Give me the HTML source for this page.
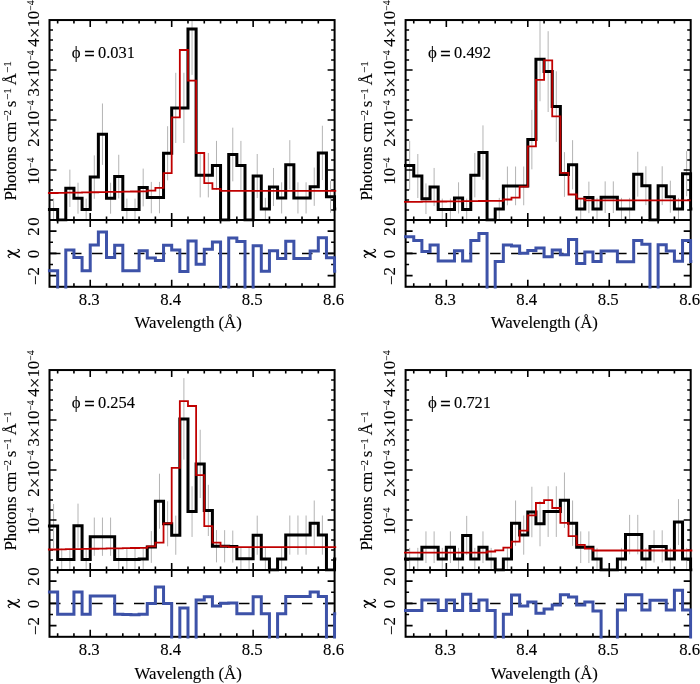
<!DOCTYPE html>
<html><head><meta charset="utf-8"><style>
html,body{margin:0;padding:0;background:#fff;}
svg{display:block;font-family:"Liberation Serif", serif;will-change:transform;}
text{stroke:#000;stroke-width:0.12px;}
</style></head><body>
<svg width="700" height="684" viewBox="0 0 700 684">
<rect width="700" height="684" fill="#fff"/>
<g transform="translate(0,0)">
<clipPath id="cm0"><rect x="50.5" y="21.05" width="283.1" height="197.95"/></clipPath>
<clipPath id="cr0"><rect x="49.5" y="220" width="285.1" height="66.8"/></clipPath>
<clipPath id="cmx0"><rect x="47.9" y="19.05" width="288.3" height="202.55"/></clipPath>
<clipPath id="crx0"><rect x="47.9" y="220.9" width="288.3" height="67.7"/></clipPath>
<path clip-path="url(#cm0)" d="M53.57 198.6V220.2M69.86 169.63V206.97M78.01 182.71V213.69M86.16 198.6V220.2M94.3 155.38V198.82M102.45 103.48V164.92M110.59 182.71V213.69M118.74 154.75V198.45M126.88 198.6V220.2M135.03 198.6V220.2M143.18 168.59V206.41M151.32 181.9V213.3M159.47 181.9V213.3M167.61 126.21V180.39M175.76 72.78V143.02M183.9 72.78V143.02M192.05 -16.72V74.92M200.2 153V197.4M208.34 153V197.4M216.49 140.89V189.91M232.78 127.66V181.34M240.92 140.89V189.91M257.22 154V198M265.36 197.85V219.95M273.51 167.95V206.05M281.65 182.31V213.49M289.8 140.16V189.44M297.94 182.31V213.49M306.09 182.31V213.49M314.24 167.56V205.84M322.38 125.73V180.07M330.53 180.69V212.71M338.67 197.85V219.95" stroke="#b4b4b4" stroke-width="1" fill="none"/>
<line clip-path="url(#cr0)" x1="50" y1="253.4" x2="334.6" y2="253.4" stroke="#000" stroke-width="1.5" stroke-dasharray="10.5 10.5"/>
<path d="M57.65 20.05v3.5M57.65 220v-3.5M57.65 220v3.5M57.65 286.8v-3.5M73.94 20.05v3.5M73.94 220v-3.5M73.94 220v3.5M73.94 286.8v-3.5M90.23 20.05v7M90.23 220v-7M90.23 220v7M90.23 286.8v-7M106.52 20.05v3.5M106.52 220v-3.5M106.52 220v3.5M106.52 286.8v-3.5M122.81 20.05v3.5M122.81 220v-3.5M122.81 220v3.5M122.81 286.8v-3.5M139.1 20.05v3.5M139.1 220v-3.5M139.1 220v3.5M139.1 286.8v-3.5M155.39 20.05v3.5M155.39 220v-3.5M155.39 220v3.5M155.39 286.8v-3.5M171.69 20.05v7M171.69 220v-7M171.69 220v7M171.69 286.8v-7M187.98 20.05v3.5M187.98 220v-3.5M187.98 220v3.5M187.98 286.8v-3.5M204.27 20.05v3.5M204.27 220v-3.5M204.27 220v3.5M204.27 286.8v-3.5M220.56 20.05v3.5M220.56 220v-3.5M220.56 220v3.5M220.56 286.8v-3.5M236.85 20.05v3.5M236.85 220v-3.5M236.85 220v3.5M236.85 286.8v-3.5M253.14 20.05v7M253.14 220v-7M253.14 220v7M253.14 286.8v-7M269.43 20.05v3.5M269.43 220v-3.5M269.43 220v3.5M269.43 286.8v-3.5M285.73 20.05v3.5M285.73 220v-3.5M285.73 220v3.5M285.73 286.8v-3.5M302.02 20.05v3.5M302.02 220v-3.5M302.02 220v3.5M302.02 286.8v-3.5M318.31 20.05v3.5M318.31 220v-3.5M318.31 220v3.5M318.31 286.8v-3.5M49.5 210h3.5M334.6 210h-3.5M49.5 200h3.5M334.6 200h-3.5M49.5 190.01h3.5M334.6 190.01h-3.5M49.5 180.01h3.5M334.6 180.01h-3.5M49.5 170.01h7M334.6 170.01h-7M49.5 160.02h3.5M334.6 160.02h-3.5M49.5 150.02h3.5M334.6 150.02h-3.5M49.5 140.02h3.5M334.6 140.02h-3.5M49.5 130.02h3.5M334.6 130.02h-3.5M49.5 120.03h7M334.6 120.03h-7M49.5 110.03h3.5M334.6 110.03h-3.5M49.5 100.03h3.5M334.6 100.03h-3.5M49.5 90.03h3.5M334.6 90.03h-3.5M49.5 80.04h3.5M334.6 80.04h-3.5M49.5 70.04h7M334.6 70.04h-7M49.5 60.04h3.5M334.6 60.04h-3.5M49.5 50.04h3.5M334.6 50.04h-3.5M49.5 40.05h3.5M334.6 40.05h-3.5M49.5 30.05h3.5M334.6 30.05h-3.5M49.5 275.67h7M334.6 275.67h-7M49.5 264.53h3.5M334.6 264.53h-3.5M49.5 253.4h7M334.6 253.4h-7M49.5 242.27h3.5M334.6 242.27h-3.5M49.5 231.13h7M334.6 231.13h-7" stroke="#000" stroke-width="1.6" fill="none"/>
<rect x="49.5" y="20.05" width="285.1" height="266.75" stroke="#000" stroke-width="2" fill="none"/>
<line x1="49.5" y1="220" x2="334.6" y2="220" stroke="#000" stroke-width="1.8"/>
<path clip-path="url(#cmx0)" d="M47.5 209.4H57.65V220H65.79V188.3H73.94V198.2H82.08V209.4H90.23V177.1H98.37V134.2H106.52V198.2H114.67V176.6H122.81V209.4H130.96V209.4H139.1V187.5H147.25V197.6H155.39V197.6H163.54V153.3H171.69V107.9H179.83V107.9H187.98V29.1H196.12V175.2H204.27V175.2H212.41V165.4H220.56V220H228.71V154.5H236.85V165.4H245V220H253.14V176H261.29V208.9H269.43V187H277.58V197.9H285.73V164.8H293.87V197.9H302.02V197.9H310.16V186.7H318.31V152.9H326.45V196.7H334.6V208.9H342.75" stroke="#000" stroke-width="3" fill="none"/>
<path clip-path="url(#cmx0)" d="M47.5 193H57.65V192.85H65.79V192.7H73.94V192.55H82.08V192.4H90.23V192.25H98.37V192.1H106.52V191.95H114.67V191.8H122.81V191.65H130.96V191.5H139.1V191.35H147.25V190.6H155.39V187.8H163.54V173.2H171.69V117.3H179.83V50H187.98V80.6H196.12V153H204.27V183.1H212.41V188.9H220.56V190.9H228.71V190.9H236.85V190.9H245V190.9H253.14V190.9H261.29V190.9H269.43V190.9H277.58V190.9H285.73V190.9H293.87V190.9H302.02V190.9H310.16V190.9H318.31V190.9H326.45V190.9H334.6V190.9H342.75" stroke="#c00000" stroke-width="1.8" fill="none"/>
<path clip-path="url(#crx0)" d="M47.5 270.7H57.65V292.8H65.79V250H73.94V257.6H82.08V270.7H90.23V245H98.37V231.9H106.52V257.6H114.67V245.3H122.81V270.7H130.96V270.7H139.1V250.7H147.25V258.1H155.39V260.4H163.54V245.3H171.69V250H179.83V271.4H187.98V241H196.12V264.3H204.27V249.3H212.41V242.1H220.56V292.8H228.71V237.9H236.85V241.4H245V292.8H253.14V245.8H261.29V271.2H269.43V250.7H277.58V258.5H285.73V241.3H293.87V258.5H302.02V258.5H310.16V251H318.31V237.8H326.45V257.8H334.6V271.2H342.75" stroke="#3d52a8" stroke-width="3" fill="none"/>
<text x="71.8" y="58.3" font-size="16.8">ϕ</text>
<text x="84.2" y="59.9" font-size="18.5" style="stroke-width:0.45px">=</text>
<text x="98" y="57.9" font-size="16.4">0.031</text>
<text x="89.23" y="305.2" font-size="16.8" text-anchor="middle">8.3</text>
<text x="170.69" y="305.2" font-size="16.8" text-anchor="middle">8.4</text>
<text x="252.14" y="305.2" font-size="16.8" text-anchor="middle">8.5</text>
<text x="333.6" y="305.2" font-size="16.8" text-anchor="middle">8.6</text>
<text x="188.2" y="328.2" font-size="16.8" text-anchor="middle">Wavelength (Å)</text>
<text transform="translate(39.3,221.5) rotate(-90)" font-size="16.8" text-anchor="middle">0</text>
<text transform="translate(39.3,171.2) rotate(-90)" font-size="16.8" text-anchor="middle">10<tspan font-size="9.6" dy="-5.2">−4</tspan></text>
<text transform="translate(39.3,123.6) rotate(-90)" font-size="16.8" text-anchor="middle">2<tspan font-size="19" dy="2">×</tspan><tspan dy="-2">1</tspan>0<tspan font-size="9.6" dy="-5.2">−4</tspan></text>
<text transform="translate(39.3,73.4) rotate(-90)" font-size="16.8" text-anchor="middle">3<tspan font-size="19" dy="2">×</tspan><tspan dy="-2">1</tspan>0<tspan font-size="9.6" dy="-5.2">−4</tspan></text>
<text transform="translate(39.3,23.6) rotate(-90)" font-size="16.8" text-anchor="middle">4<tspan font-size="19" dy="2">×</tspan><tspan dy="-2">1</tspan>0<tspan font-size="9.6" dy="-5.2">−4</tspan></text>
<text transform="translate(39.3,231.5) rotate(-90)" font-size="16.8" text-anchor="middle">2</text>
<text transform="translate(39.3,254) rotate(-90)" font-size="16.8" text-anchor="middle">0</text>
<text transform="translate(39.3,276) rotate(-90)" font-size="16.8" text-anchor="middle"><tspan dy="1.6">−</tspan><tspan dy="-1.6">2</tspan></text>
<path d="M8.3 250.75L19.25 257.1" stroke="#000" stroke-width="1.75" stroke-linecap="round" fill="none"/>
<path d="M10.1 257.7C8.6 257.3 7.8 256.3 8.3 255.3C9 254.3 11 253.9 12.8 253.6C14.8 253.3 16.6 252.9 18 252.2C19.3 251.6 19.9 250.6 19.1 249.9C18.7 249.5 18 249.4 17.5 249.4" stroke="#000" stroke-width="1.1" fill="none"/>
<text transform="translate(15.8,200.6) rotate(-90)" font-size="16.8" text-anchor="start">Photons cm</text>
<text transform="translate(11.4,121.6) rotate(-90)" font-size="11" text-anchor="start">−2</text>
<text transform="translate(15.8,107.2) rotate(-90)" font-size="16.8" text-anchor="start">s</text>
<text transform="translate(11.4,100) rotate(-90)" font-size="11" text-anchor="start">−1</text>
<text transform="translate(15.8,85.2) rotate(-90)" font-size="16.8" text-anchor="start">Å</text>
<text transform="translate(11.4,72.9) rotate(-90)" font-size="11" text-anchor="start">−1</text>
</g>
<g transform="translate(356.1,0)">
<clipPath id="cm1"><rect x="50.5" y="21.05" width="283.1" height="197.95"/></clipPath>
<clipPath id="cr1"><rect x="49.5" y="220" width="285.1" height="66.8"/></clipPath>
<clipPath id="cmx1"><rect x="47.9" y="19.05" width="288.3" height="202.55"/></clipPath>
<clipPath id="crx1"><rect x="47.9" y="220.9" width="288.3" height="67.7"/></clipPath>
<path clip-path="url(#cm1)" d="M53.57 140.89V189.91M61.72 154V198M69.86 183.39V214.01M78.01 167.95V206.05M86.16 198.6V220.2M94.3 198.6V220.2M102.45 182.31V213.49M110.59 198.6V220.2M118.74 153V197.4M126.88 125.37V179.83M143.18 197.85V219.95M151.32 166.53V205.27M159.47 166.53V205.27M167.61 166.53V205.27M175.76 109.86V169.34M183.9 17.14V101.26M192.05 31.2V112M200.2 71.28V141.92M208.34 152.13V196.87M216.49 140.16V189.44M224.63 197.85V219.95M232.78 181.63V213.17M240.92 197.85V219.95M249.07 181.36V213.04M257.22 181.36V213.04M265.36 197.85V219.95M273.51 197.85V219.95M281.65 151.75V196.65M289.8 166.28V205.12M306.09 166.28V205.12M314.24 180.69V212.71M322.38 197.85V219.95M330.53 151.13V196.27M338.67 197.85V219.95" stroke="#b4b4b4" stroke-width="1" fill="none"/>
<line clip-path="url(#cr1)" x1="50" y1="253.4" x2="334.6" y2="253.4" stroke="#000" stroke-width="1.5" stroke-dasharray="10.5 10.5"/>
<path d="M57.65 20.05v3.5M57.65 220v-3.5M57.65 220v3.5M57.65 286.8v-3.5M73.94 20.05v3.5M73.94 220v-3.5M73.94 220v3.5M73.94 286.8v-3.5M90.23 20.05v7M90.23 220v-7M90.23 220v7M90.23 286.8v-7M106.52 20.05v3.5M106.52 220v-3.5M106.52 220v3.5M106.52 286.8v-3.5M122.81 20.05v3.5M122.81 220v-3.5M122.81 220v3.5M122.81 286.8v-3.5M139.1 20.05v3.5M139.1 220v-3.5M139.1 220v3.5M139.1 286.8v-3.5M155.39 20.05v3.5M155.39 220v-3.5M155.39 220v3.5M155.39 286.8v-3.5M171.69 20.05v7M171.69 220v-7M171.69 220v7M171.69 286.8v-7M187.98 20.05v3.5M187.98 220v-3.5M187.98 220v3.5M187.98 286.8v-3.5M204.27 20.05v3.5M204.27 220v-3.5M204.27 220v3.5M204.27 286.8v-3.5M220.56 20.05v3.5M220.56 220v-3.5M220.56 220v3.5M220.56 286.8v-3.5M236.85 20.05v3.5M236.85 220v-3.5M236.85 220v3.5M236.85 286.8v-3.5M253.14 20.05v7M253.14 220v-7M253.14 220v7M253.14 286.8v-7M269.43 20.05v3.5M269.43 220v-3.5M269.43 220v3.5M269.43 286.8v-3.5M285.73 20.05v3.5M285.73 220v-3.5M285.73 220v3.5M285.73 286.8v-3.5M302.02 20.05v3.5M302.02 220v-3.5M302.02 220v3.5M302.02 286.8v-3.5M318.31 20.05v3.5M318.31 220v-3.5M318.31 220v3.5M318.31 286.8v-3.5M49.5 210h3.5M334.6 210h-3.5M49.5 200h3.5M334.6 200h-3.5M49.5 190.01h3.5M334.6 190.01h-3.5M49.5 180.01h3.5M334.6 180.01h-3.5M49.5 170.01h7M334.6 170.01h-7M49.5 160.02h3.5M334.6 160.02h-3.5M49.5 150.02h3.5M334.6 150.02h-3.5M49.5 140.02h3.5M334.6 140.02h-3.5M49.5 130.02h3.5M334.6 130.02h-3.5M49.5 120.03h7M334.6 120.03h-7M49.5 110.03h3.5M334.6 110.03h-3.5M49.5 100.03h3.5M334.6 100.03h-3.5M49.5 90.03h3.5M334.6 90.03h-3.5M49.5 80.04h3.5M334.6 80.04h-3.5M49.5 70.04h7M334.6 70.04h-7M49.5 60.04h3.5M334.6 60.04h-3.5M49.5 50.04h3.5M334.6 50.04h-3.5M49.5 40.05h3.5M334.6 40.05h-3.5M49.5 30.05h3.5M334.6 30.05h-3.5M49.5 275.67h7M334.6 275.67h-7M49.5 264.53h3.5M334.6 264.53h-3.5M49.5 253.4h7M334.6 253.4h-7M49.5 242.27h3.5M334.6 242.27h-3.5M49.5 231.13h7M334.6 231.13h-7" stroke="#000" stroke-width="1.6" fill="none"/>
<rect x="49.5" y="20.05" width="285.1" height="266.75" stroke="#000" stroke-width="2" fill="none"/>
<line x1="49.5" y1="220" x2="334.6" y2="220" stroke="#000" stroke-width="1.8"/>
<path clip-path="url(#cmx1)" d="M47.5 165.4H57.65V176H65.79V198.7H73.94V187H82.08V209.4H90.23V209.4H98.37V197.9H106.52V209.4H114.67V175.2H122.81V152.6H130.96V220H139.1V208.9H147.25V185.9H155.39V185.9H163.54V185.9H171.69V139.6H179.83V59.2H187.98V71.6H196.12V106.6H204.27V174.5H212.41V164.8H220.56V208.9H228.71V197.4H236.85V208.9H245V197.2H253.14V197.2H261.29V208.9H269.43V208.9H277.58V174.2H285.73V185.7H293.87V220H302.02V185.7H310.16V196.7H318.31V208.9H326.45V173.7H334.6V208.9H342.75" stroke="#000" stroke-width="3" fill="none"/>
<path clip-path="url(#cmx1)" d="M47.5 201.9H57.65V201.8H65.79V201.7H73.94V201.6H82.08V201.5H90.23V201.4H98.37V201.3H106.52V201.2H114.67V201.1H122.81V201H130.96V200.9H139.1V200.8H147.25V199.5H155.39V197.6H163.54V186.7H171.69V146.3H179.83V79.8H187.98V60.3H196.12V116.3H204.27V172.9H212.41V194.5H220.56V198.7H228.71V200.4H236.85V200.4H245V200.4H253.14V200.4H261.29V200.4H269.43V200.4H277.58V200.4H285.73V200.4H293.87V200.4H302.02V200.4H310.16V200.4H318.31V200.4H326.45V200.4H334.6" stroke="#c00000" stroke-width="1.8" fill="none"/>
<path clip-path="url(#crx1)" d="M47.5 236.7H57.65V240.4H65.79V251.4H73.94V245H82.08V261H90.23V261H98.37V250.7H106.52V261H114.67V240.4H122.81V233.6H130.96V292.8H139.1V261.4H147.25V245H155.39V246.1H163.54V253.3H171.69V250.4H179.83V247.9H187.98V256.7H196.12V250H204.27V254.7H212.41V239.6H220.56V263.6H228.71V251.9H236.85V261.6H245V251H253.14V251H261.29V261.8H269.43V261.8H277.58V240.5H285.73V244.3H293.87V292.8H302.02V244.7H310.16V251H318.31V261.2H326.45V240.5H334.6V261.5H342.75" stroke="#3d52a8" stroke-width="3" fill="none"/>
<text x="71.8" y="58.3" font-size="16.8">ϕ</text>
<text x="84.2" y="59.9" font-size="18.5" style="stroke-width:0.45px">=</text>
<text x="98" y="57.9" font-size="16.4">0.492</text>
<text x="89.23" y="305.2" font-size="16.8" text-anchor="middle">8.3</text>
<text x="170.69" y="305.2" font-size="16.8" text-anchor="middle">8.4</text>
<text x="252.14" y="305.2" font-size="16.8" text-anchor="middle">8.5</text>
<text x="333.6" y="305.2" font-size="16.8" text-anchor="middle">8.6</text>
<text x="188.2" y="328.2" font-size="16.8" text-anchor="middle">Wavelength (Å)</text>
<text transform="translate(39.3,221.5) rotate(-90)" font-size="16.8" text-anchor="middle">0</text>
<text transform="translate(39.3,171.2) rotate(-90)" font-size="16.8" text-anchor="middle">10<tspan font-size="9.6" dy="-5.2">−4</tspan></text>
<text transform="translate(39.3,123.6) rotate(-90)" font-size="16.8" text-anchor="middle">2<tspan font-size="19" dy="2">×</tspan><tspan dy="-2">1</tspan>0<tspan font-size="9.6" dy="-5.2">−4</tspan></text>
<text transform="translate(39.3,73.4) rotate(-90)" font-size="16.8" text-anchor="middle">3<tspan font-size="19" dy="2">×</tspan><tspan dy="-2">1</tspan>0<tspan font-size="9.6" dy="-5.2">−4</tspan></text>
<text transform="translate(39.3,23.6) rotate(-90)" font-size="16.8" text-anchor="middle">4<tspan font-size="19" dy="2">×</tspan><tspan dy="-2">1</tspan>0<tspan font-size="9.6" dy="-5.2">−4</tspan></text>
<text transform="translate(39.3,231.5) rotate(-90)" font-size="16.8" text-anchor="middle">2</text>
<text transform="translate(39.3,254) rotate(-90)" font-size="16.8" text-anchor="middle">0</text>
<text transform="translate(39.3,276) rotate(-90)" font-size="16.8" text-anchor="middle"><tspan dy="1.6">−</tspan><tspan dy="-1.6">2</tspan></text>
<path d="M8.3 250.75L19.25 257.1" stroke="#000" stroke-width="1.75" stroke-linecap="round" fill="none"/>
<path d="M10.1 257.7C8.6 257.3 7.8 256.3 8.3 255.3C9 254.3 11 253.9 12.8 253.6C14.8 253.3 16.6 252.9 18 252.2C19.3 251.6 19.9 250.6 19.1 249.9C18.7 249.5 18 249.4 17.5 249.4" stroke="#000" stroke-width="1.1" fill="none"/>
<text transform="translate(15.8,200.6) rotate(-90)" font-size="16.8" text-anchor="start">Photons cm</text>
<text transform="translate(11.4,121.6) rotate(-90)" font-size="11" text-anchor="start">−2</text>
<text transform="translate(15.8,107.2) rotate(-90)" font-size="16.8" text-anchor="start">s</text>
<text transform="translate(11.4,100) rotate(-90)" font-size="11" text-anchor="start">−1</text>
<text transform="translate(15.8,85.2) rotate(-90)" font-size="16.8" text-anchor="start">Å</text>
<text transform="translate(11.4,72.9) rotate(-90)" font-size="11" text-anchor="start">−1</text>
</g>
<g transform="translate(0,350)">
<clipPath id="cm2"><rect x="50.5" y="21.05" width="283.1" height="197.95"/></clipPath>
<clipPath id="cr2"><rect x="49.5" y="220" width="285.1" height="66.8"/></clipPath>
<clipPath id="cmx2"><rect x="47.9" y="19.05" width="288.3" height="202.55"/></clipPath>
<clipPath id="crx2"><rect x="47.9" y="220.9" width="288.3" height="67.7"/></clipPath>
<path clip-path="url(#cm2)" d="M53.57 154V198M61.72 198.6V220.2M69.86 198.6V220.2M78.01 153.63V197.77M86.16 198.6V220.2M94.3 167.56V205.84M102.45 167.56V205.84M110.59 167.56V205.84M118.74 198.6V220.2M126.88 198.6V220.2M135.03 198.6V220.2M143.18 197.85V219.95M151.32 181.09V212.91M159.47 123.69V178.71M167.61 151.26V196.34M175.76 165.63V204.77M183.9 28.13V109.67M192.05 136.25V186.95M200.2 79.74V148.06M208.34 134.8V186M216.49 180.02V212.38M224.63 180.15V212.45M232.78 180.56V212.64M240.92 197.55V219.85M249.07 197.55V219.85M257.22 165.63V204.77M265.36 197.85V219.95M281.65 197.85V219.95M289.8 165.51V204.69M297.94 165.51V204.69M306.09 165.51V204.69M314.24 150.51V195.89M322.38 165.51V204.69M338.67 197.85V219.95" stroke="#b4b4b4" stroke-width="1" fill="none"/>
<line clip-path="url(#cr2)" x1="50" y1="253.4" x2="334.6" y2="253.4" stroke="#000" stroke-width="1.5" stroke-dasharray="10.5 10.5"/>
<path d="M57.65 20.05v3.5M57.65 220v-3.5M57.65 220v3.5M57.65 286.8v-3.5M73.94 20.05v3.5M73.94 220v-3.5M73.94 220v3.5M73.94 286.8v-3.5M90.23 20.05v7M90.23 220v-7M90.23 220v7M90.23 286.8v-7M106.52 20.05v3.5M106.52 220v-3.5M106.52 220v3.5M106.52 286.8v-3.5M122.81 20.05v3.5M122.81 220v-3.5M122.81 220v3.5M122.81 286.8v-3.5M139.1 20.05v3.5M139.1 220v-3.5M139.1 220v3.5M139.1 286.8v-3.5M155.39 20.05v3.5M155.39 220v-3.5M155.39 220v3.5M155.39 286.8v-3.5M171.69 20.05v7M171.69 220v-7M171.69 220v7M171.69 286.8v-7M187.98 20.05v3.5M187.98 220v-3.5M187.98 220v3.5M187.98 286.8v-3.5M204.27 20.05v3.5M204.27 220v-3.5M204.27 220v3.5M204.27 286.8v-3.5M220.56 20.05v3.5M220.56 220v-3.5M220.56 220v3.5M220.56 286.8v-3.5M236.85 20.05v3.5M236.85 220v-3.5M236.85 220v3.5M236.85 286.8v-3.5M253.14 20.05v7M253.14 220v-7M253.14 220v7M253.14 286.8v-7M269.43 20.05v3.5M269.43 220v-3.5M269.43 220v3.5M269.43 286.8v-3.5M285.73 20.05v3.5M285.73 220v-3.5M285.73 220v3.5M285.73 286.8v-3.5M302.02 20.05v3.5M302.02 220v-3.5M302.02 220v3.5M302.02 286.8v-3.5M318.31 20.05v3.5M318.31 220v-3.5M318.31 220v3.5M318.31 286.8v-3.5M49.5 210h3.5M334.6 210h-3.5M49.5 200h3.5M334.6 200h-3.5M49.5 190.01h3.5M334.6 190.01h-3.5M49.5 180.01h3.5M334.6 180.01h-3.5M49.5 170.01h7M334.6 170.01h-7M49.5 160.02h3.5M334.6 160.02h-3.5M49.5 150.02h3.5M334.6 150.02h-3.5M49.5 140.02h3.5M334.6 140.02h-3.5M49.5 130.02h3.5M334.6 130.02h-3.5M49.5 120.03h7M334.6 120.03h-7M49.5 110.03h3.5M334.6 110.03h-3.5M49.5 100.03h3.5M334.6 100.03h-3.5M49.5 90.03h3.5M334.6 90.03h-3.5M49.5 80.04h3.5M334.6 80.04h-3.5M49.5 70.04h7M334.6 70.04h-7M49.5 60.04h3.5M334.6 60.04h-3.5M49.5 50.04h3.5M334.6 50.04h-3.5M49.5 40.05h3.5M334.6 40.05h-3.5M49.5 30.05h3.5M334.6 30.05h-3.5M49.5 275.67h7M334.6 275.67h-7M49.5 264.53h3.5M334.6 264.53h-3.5M49.5 253.4h7M334.6 253.4h-7M49.5 242.27h3.5M334.6 242.27h-3.5M49.5 231.13h7M334.6 231.13h-7" stroke="#000" stroke-width="1.6" fill="none"/>
<rect x="49.5" y="20.05" width="285.1" height="266.75" stroke="#000" stroke-width="2" fill="none"/>
<line x1="49.5" y1="220" x2="334.6" y2="220" stroke="#000" stroke-width="1.8"/>
<path clip-path="url(#cmx2)" d="M47.5 176H57.65V209.4H65.79V209.4H73.94V175.7H82.08V209.4H90.23V186.7H98.37V186.7H106.52V186.7H114.67V209.4H122.81V209.4H130.96V209.4H139.1V208.9H147.25V197H155.39V151.2H163.54V173.8H171.69V185.2H179.83V68.9H187.98V161.6H196.12V113.9H204.27V160.4H212.41V196.2H220.56V196.3H228.71V196.6H236.85V208.7H245V208.7H253.14V185.2H261.29V208.9H269.43V220H277.58V208.9H285.73V185.1H293.87V185.1H302.02V185.1H310.16V173.2H318.31V185.1H326.45V220H334.6V208.9H342.75" stroke="#000" stroke-width="3" fill="none"/>
<path clip-path="url(#cmx2)" d="M47.5 199.5H57.65V199.35H65.79V199.2H73.94V199.05H82.08V198.9H90.23V198.75H98.37V198.6H106.52V198.45H114.67V198.3H122.81V198.15H130.96V198H139.1V197.85H147.25V196.3H155.39V192.7H163.54V173.3H171.69V117.9H179.83V51.2H187.98V56H196.12V125.2H204.27V176.2H212.41V192.6H220.56V196.3H228.71V197.2H236.85V197.2H245V197.2H253.14V197.2H261.29V197.2H269.43V197.2H277.58V197.2H285.73V197.2H293.87V197.2H302.02V197.2H310.16V197.2H318.31V197.2H326.45V197.2H334.6V197.2H342.75" stroke="#c00000" stroke-width="1.8" fill="none"/>
<path clip-path="url(#crx2)" d="M47.5 241.9H57.65V264.3H65.79V264.3H73.94V241.9H82.08V264.3H90.23V246.1H98.37V246.1H106.52V246.1H114.67V264.3H122.81V264.5H130.96V264.7H139.1V264.3H147.25V253.6H155.39V237.1H163.54V253.6H171.69V292.8H179.83V258.1H187.98V292.8H196.12V250H204.27V246.7H212.41V256.1H220.56V253.3H228.71V253H236.85V263.8H245V263.8H253.14V246.8H261.29V263.8H269.43V292.8H277.58V263.8H285.73V246.5H293.87V246.5H302.02V246.5H310.16V242H318.31V246.5H326.45V292.8H334.6V263.8H342.75" stroke="#3d52a8" stroke-width="3" fill="none"/>
<text x="71.8" y="58.3" font-size="16.8">ϕ</text>
<text x="84.2" y="59.9" font-size="18.5" style="stroke-width:0.45px">=</text>
<text x="98" y="57.9" font-size="16.4">0.254</text>
<text x="89.23" y="305.2" font-size="16.8" text-anchor="middle">8.3</text>
<text x="170.69" y="305.2" font-size="16.8" text-anchor="middle">8.4</text>
<text x="252.14" y="305.2" font-size="16.8" text-anchor="middle">8.5</text>
<text x="333.6" y="305.2" font-size="16.8" text-anchor="middle">8.6</text>
<text x="188.2" y="329.1" font-size="16.8" text-anchor="middle">Wavelength (Å)</text>
<text transform="translate(39.3,221.5) rotate(-90)" font-size="16.8" text-anchor="middle">0</text>
<text transform="translate(39.3,171.2) rotate(-90)" font-size="16.8" text-anchor="middle">10<tspan font-size="9.6" dy="-5.2">−4</tspan></text>
<text transform="translate(39.3,123.6) rotate(-90)" font-size="16.8" text-anchor="middle">2<tspan font-size="19" dy="2">×</tspan><tspan dy="-2">1</tspan>0<tspan font-size="9.6" dy="-5.2">−4</tspan></text>
<text transform="translate(39.3,73.4) rotate(-90)" font-size="16.8" text-anchor="middle">3<tspan font-size="19" dy="2">×</tspan><tspan dy="-2">1</tspan>0<tspan font-size="9.6" dy="-5.2">−4</tspan></text>
<text transform="translate(39.3,23.6) rotate(-90)" font-size="16.8" text-anchor="middle">4<tspan font-size="19" dy="2">×</tspan><tspan dy="-2">1</tspan>0<tspan font-size="9.6" dy="-5.2">−4</tspan></text>
<text transform="translate(39.3,231.5) rotate(-90)" font-size="16.8" text-anchor="middle">2</text>
<text transform="translate(39.3,254) rotate(-90)" font-size="16.8" text-anchor="middle">0</text>
<text transform="translate(39.3,276) rotate(-90)" font-size="16.8" text-anchor="middle"><tspan dy="1.6">−</tspan><tspan dy="-1.6">2</tspan></text>
<path d="M8.3 250.75L19.25 257.1" stroke="#000" stroke-width="1.75" stroke-linecap="round" fill="none"/>
<path d="M10.1 257.7C8.6 257.3 7.8 256.3 8.3 255.3C9 254.3 11 253.9 12.8 253.6C14.8 253.3 16.6 252.9 18 252.2C19.3 251.6 19.9 250.6 19.1 249.9C18.7 249.5 18 249.4 17.5 249.4" stroke="#000" stroke-width="1.1" fill="none"/>
<text transform="translate(15.8,200.6) rotate(-90)" font-size="16.8" text-anchor="start">Photons cm</text>
<text transform="translate(11.4,121.6) rotate(-90)" font-size="11" text-anchor="start">−2</text>
<text transform="translate(15.8,107.2) rotate(-90)" font-size="16.8" text-anchor="start">s</text>
<text transform="translate(11.4,100) rotate(-90)" font-size="11" text-anchor="start">−1</text>
<text transform="translate(15.8,85.2) rotate(-90)" font-size="16.8" text-anchor="start">Å</text>
<text transform="translate(11.4,72.9) rotate(-90)" font-size="11" text-anchor="start">−1</text>
</g>
<g transform="translate(356.1,350)">
<clipPath id="cm3"><rect x="50.5" y="21.05" width="283.1" height="197.95"/></clipPath>
<clipPath id="cr3"><rect x="49.5" y="220" width="285.1" height="66.8"/></clipPath>
<clipPath id="cmx3"><rect x="47.9" y="19.05" width="288.3" height="202.55"/></clipPath>
<clipPath id="crx3"><rect x="47.9" y="220.9" width="288.3" height="67.7"/></clipPath>
<path clip-path="url(#cm3)" d="M53.57 197.85V219.95M61.72 197.85V219.95M69.86 181.36V213.04M78.01 181.36V213.04M86.16 197.85V219.95M94.3 181.36V213.04M102.45 197.85V219.95M110.59 165.89V204.91M118.74 197.85V219.95M126.88 181.36V213.04M135.03 197.85V219.95M151.32 197.85V219.95M159.47 150.51V195.89M167.61 165.51V204.69M175.76 136.74V187.26M183.9 151.13V196.27M192.05 136.25V186.95M200.2 136.25V186.95M208.34 122.49V177.91M216.49 150.51V195.89M224.63 181.36V213.04M232.78 181.36V213.04M240.92 197.85V219.95M265.36 197.85V219.95M273.51 164.87V204.33M281.65 164.87V204.33M289.8 197.85V219.95M297.94 180.29V212.51M306.09 180.29V212.51M314.24 197.85V219.95M322.38 149.15V195.05M330.53 197.85V219.95" stroke="#b4b4b4" stroke-width="1" fill="none"/>
<line clip-path="url(#cr3)" x1="50" y1="253.4" x2="334.6" y2="253.4" stroke="#000" stroke-width="1.5" stroke-dasharray="10.5 10.5"/>
<path d="M57.65 20.05v3.5M57.65 220v-3.5M57.65 220v3.5M57.65 286.8v-3.5M73.94 20.05v3.5M73.94 220v-3.5M73.94 220v3.5M73.94 286.8v-3.5M90.23 20.05v7M90.23 220v-7M90.23 220v7M90.23 286.8v-7M106.52 20.05v3.5M106.52 220v-3.5M106.52 220v3.5M106.52 286.8v-3.5M122.81 20.05v3.5M122.81 220v-3.5M122.81 220v3.5M122.81 286.8v-3.5M139.1 20.05v3.5M139.1 220v-3.5M139.1 220v3.5M139.1 286.8v-3.5M155.39 20.05v3.5M155.39 220v-3.5M155.39 220v3.5M155.39 286.8v-3.5M171.69 20.05v7M171.69 220v-7M171.69 220v7M171.69 286.8v-7M187.98 20.05v3.5M187.98 220v-3.5M187.98 220v3.5M187.98 286.8v-3.5M204.27 20.05v3.5M204.27 220v-3.5M204.27 220v3.5M204.27 286.8v-3.5M220.56 20.05v3.5M220.56 220v-3.5M220.56 220v3.5M220.56 286.8v-3.5M236.85 20.05v3.5M236.85 220v-3.5M236.85 220v3.5M236.85 286.8v-3.5M253.14 20.05v7M253.14 220v-7M253.14 220v7M253.14 286.8v-7M269.43 20.05v3.5M269.43 220v-3.5M269.43 220v3.5M269.43 286.8v-3.5M285.73 20.05v3.5M285.73 220v-3.5M285.73 220v3.5M285.73 286.8v-3.5M302.02 20.05v3.5M302.02 220v-3.5M302.02 220v3.5M302.02 286.8v-3.5M318.31 20.05v3.5M318.31 220v-3.5M318.31 220v3.5M318.31 286.8v-3.5M49.5 210h3.5M334.6 210h-3.5M49.5 200h3.5M334.6 200h-3.5M49.5 190.01h3.5M334.6 190.01h-3.5M49.5 180.01h3.5M334.6 180.01h-3.5M49.5 170.01h7M334.6 170.01h-7M49.5 160.02h3.5M334.6 160.02h-3.5M49.5 150.02h3.5M334.6 150.02h-3.5M49.5 140.02h3.5M334.6 140.02h-3.5M49.5 130.02h3.5M334.6 130.02h-3.5M49.5 120.03h7M334.6 120.03h-7M49.5 110.03h3.5M334.6 110.03h-3.5M49.5 100.03h3.5M334.6 100.03h-3.5M49.5 90.03h3.5M334.6 90.03h-3.5M49.5 80.04h3.5M334.6 80.04h-3.5M49.5 70.04h7M334.6 70.04h-7M49.5 60.04h3.5M334.6 60.04h-3.5M49.5 50.04h3.5M334.6 50.04h-3.5M49.5 40.05h3.5M334.6 40.05h-3.5M49.5 30.05h3.5M334.6 30.05h-3.5M49.5 275.67h7M334.6 275.67h-7M49.5 264.53h3.5M334.6 264.53h-3.5M49.5 253.4h7M334.6 253.4h-7M49.5 242.27h3.5M334.6 242.27h-3.5M49.5 231.13h7M334.6 231.13h-7" stroke="#000" stroke-width="1.6" fill="none"/>
<rect x="49.5" y="20.05" width="285.1" height="266.75" stroke="#000" stroke-width="2" fill="none"/>
<line x1="49.5" y1="220" x2="334.6" y2="220" stroke="#000" stroke-width="1.8"/>
<path clip-path="url(#cmx3)" d="M47.5 208.9H57.65V208.9H65.79V197.2H73.94V197.2H82.08V208.9H90.23V197.2H98.37V208.9H106.52V185.4H114.67V208.9H122.81V197.2H130.96V208.9H139.1V220H147.25V208.9H155.39V173.2H163.54V185.1H171.69V162H179.83V173.7H187.98V161.6H196.12V161.6H204.27V150.2H212.41V173.2H220.56V197.2H228.71V197.2H236.85V208.9H245V220H253.14V220H261.29V208.9H269.43V184.6H277.58V184.6H285.73V208.9H293.87V196.4H302.02V196.4H310.16V208.9H318.31V172.1H326.45V208.9H334.6V220H342.75" stroke="#000" stroke-width="3" fill="none"/>
<path clip-path="url(#cmx3)" d="M47.5 202.6H57.65V202.6H65.79V202.6H73.94V202.6H82.08V202.6H90.23V202.6H98.37V202.6H106.52V202.6H114.67V202.6H122.81V202.6H130.96V201.5H139.1V200.3H147.25V197.6H155.39V191.7H163.54V180.7H171.69V165.4H179.83V153H187.98V150.2H196.12V158H204.27V172.9H212.41V186.2H220.56V194.8H228.71V198.7H236.85V200.5H245V200.5H253.14V200.5H261.29V200.5H269.43V200.5H277.58V200.5H285.73V200.5H293.87V200.5H302.02V200.5H310.16V200.5H318.31V200.5H326.45V200.5H334.6V200.5H342.75" stroke="#c00000" stroke-width="1.8" fill="none"/>
<path clip-path="url(#crx3)" d="M47.5 260.4H57.65V260.4H65.79V250H73.94V250H82.08V260.4H90.23V250H98.37V260.4H106.52V244.3H114.67V260.4H122.81V250H130.96V260.4H139.1V292.8H147.25V264.3H155.39V245H163.54V256.1H171.69V251.9H179.83V263.3H187.98V259H196.12V255H204.27V244.7H212.41V247.1H220.56V255H228.71V252H236.85V261H245V292.8H253.14V292.8H261.29V260H269.43V244.7H277.58V244.7H285.73V260H293.87V250.3H302.02V250.3H310.16V260H318.31V240.2H326.45V260H334.6V292.8H342.75" stroke="#3d52a8" stroke-width="3" fill="none"/>
<text x="71.8" y="58.3" font-size="16.8">ϕ</text>
<text x="84.2" y="59.9" font-size="18.5" style="stroke-width:0.45px">=</text>
<text x="98" y="57.9" font-size="16.4">0.721</text>
<text x="89.23" y="305.2" font-size="16.8" text-anchor="middle">8.3</text>
<text x="170.69" y="305.2" font-size="16.8" text-anchor="middle">8.4</text>
<text x="252.14" y="305.2" font-size="16.8" text-anchor="middle">8.5</text>
<text x="333.6" y="305.2" font-size="16.8" text-anchor="middle">8.6</text>
<text x="188.2" y="329.1" font-size="16.8" text-anchor="middle">Wavelength (Å)</text>
<text transform="translate(39.3,221.5) rotate(-90)" font-size="16.8" text-anchor="middle">0</text>
<text transform="translate(39.3,171.2) rotate(-90)" font-size="16.8" text-anchor="middle">10<tspan font-size="9.6" dy="-5.2">−4</tspan></text>
<text transform="translate(39.3,123.6) rotate(-90)" font-size="16.8" text-anchor="middle">2<tspan font-size="19" dy="2">×</tspan><tspan dy="-2">1</tspan>0<tspan font-size="9.6" dy="-5.2">−4</tspan></text>
<text transform="translate(39.3,73.4) rotate(-90)" font-size="16.8" text-anchor="middle">3<tspan font-size="19" dy="2">×</tspan><tspan dy="-2">1</tspan>0<tspan font-size="9.6" dy="-5.2">−4</tspan></text>
<text transform="translate(39.3,23.6) rotate(-90)" font-size="16.8" text-anchor="middle">4<tspan font-size="19" dy="2">×</tspan><tspan dy="-2">1</tspan>0<tspan font-size="9.6" dy="-5.2">−4</tspan></text>
<text transform="translate(39.3,231.5) rotate(-90)" font-size="16.8" text-anchor="middle">2</text>
<text transform="translate(39.3,254) rotate(-90)" font-size="16.8" text-anchor="middle">0</text>
<text transform="translate(39.3,276) rotate(-90)" font-size="16.8" text-anchor="middle"><tspan dy="1.6">−</tspan><tspan dy="-1.6">2</tspan></text>
<path d="M8.3 250.75L19.25 257.1" stroke="#000" stroke-width="1.75" stroke-linecap="round" fill="none"/>
<path d="M10.1 257.7C8.6 257.3 7.8 256.3 8.3 255.3C9 254.3 11 253.9 12.8 253.6C14.8 253.3 16.6 252.9 18 252.2C19.3 251.6 19.9 250.6 19.1 249.9C18.7 249.5 18 249.4 17.5 249.4" stroke="#000" stroke-width="1.1" fill="none"/>
<text transform="translate(15.8,200.6) rotate(-90)" font-size="16.8" text-anchor="start">Photons cm</text>
<text transform="translate(11.4,121.6) rotate(-90)" font-size="11" text-anchor="start">−2</text>
<text transform="translate(15.8,107.2) rotate(-90)" font-size="16.8" text-anchor="start">s</text>
<text transform="translate(11.4,100) rotate(-90)" font-size="11" text-anchor="start">−1</text>
<text transform="translate(15.8,85.2) rotate(-90)" font-size="16.8" text-anchor="start">Å</text>
<text transform="translate(11.4,72.9) rotate(-90)" font-size="11" text-anchor="start">−1</text>
</g>
</svg>
</body></html>
